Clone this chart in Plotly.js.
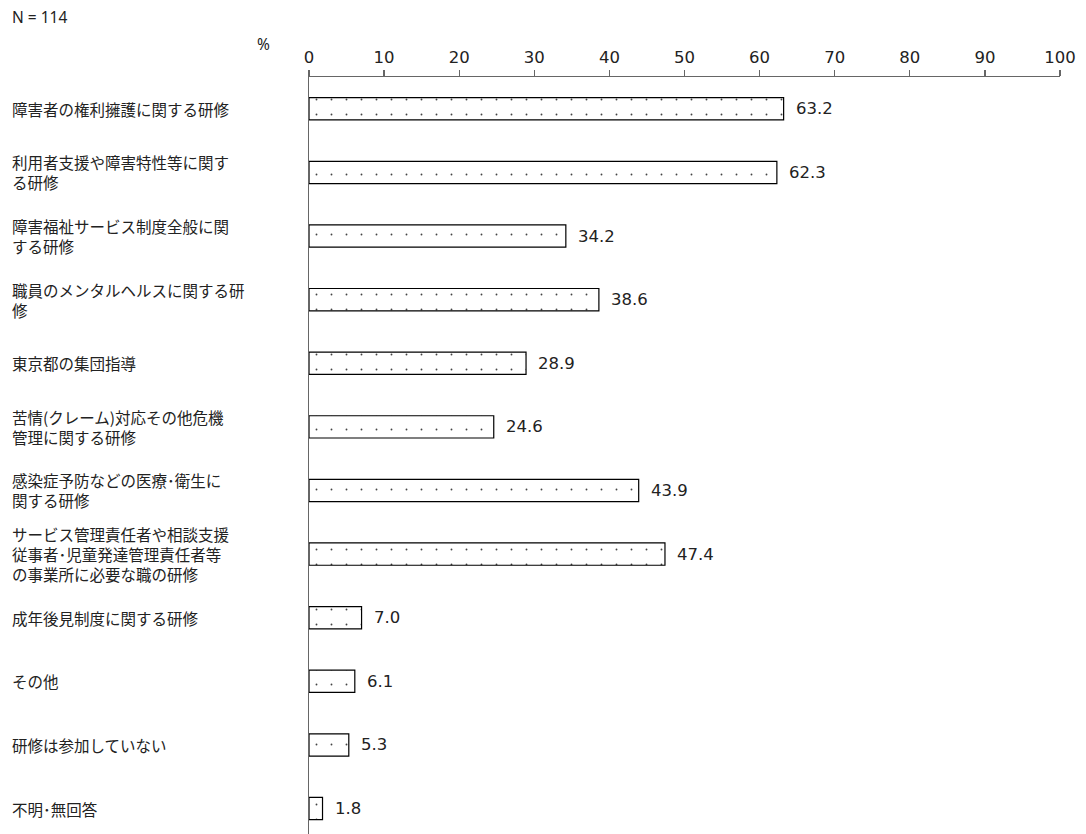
<!DOCTYPE html>
<html><head><meta charset="utf-8">
<script src="https://cdn.plot.ly/plotly-3.0.1.min.js"></script>
<style>body{margin:0;background:#fff}#c{width:1086px;height:834px}</style>
</head><body><div id="c"></div>
<script>
const categories = [
  "障害者の権利擁護に関する研修",
  "利用者支援や障害特性等に関す<br>る研修",
  "障害福祉サービス制度全般に関<br>する研修",
  "職員のメンタルヘルスに関する研<br>修",
  "東京都の集団指導",
  "苦情(クレーム)対応その他危機<br>管理に関する研修",
  "感染症予防などの医療･衛生に<br>関する研修",
  "サービス管理責任者や相談支援<br>従事者･児童発達管理責任者等<br>の事業所に必要な職の研修",
  "成年後見制度に関する研修",
  "その他",
  "研修は参加していない",
  "不明･無回答"
];
const values = [63.2, 62.3, 34.2, 38.6, 28.9, 24.6, 43.9, 47.4, 7.0, 6.1, 5.3, 1.8];
const tickValues = [0,10,20,30,40,50,60,70,80,90,100];

const font = "'Noto Sans CJK JP', 'Noto Sans', sans-serif";
const numFont = "'DejaVu Sans', sans-serif";
const ids = categories.map((c,i)=>"c"+i);

const trace = {
  type: "bar", orientation: "h",
  x: values, y: ids,
  width: 0.35,
  marker: {
    color: "#ffffff",
    line: {color: "#000000", width: 1.2},
    pattern: {shape: ".", fgcolor: "#444444", bgcolor: "#ffffff", size: 15, solidity: 0.012}
  },
  hoverinfo: "skip"
};

const annotations = [];
categories.forEach((c,i)=>{
  annotations.push({xref:"paper", x:-0.398, yref:"y", y:ids[i], text:c, showarrow:false,
    xanchor:"left", yanchor:"middle", align:"left",
    font:{family:font, size:15.5, color:"#222"}});
  annotations.push({xref:"x", x:values[i], yref:"y", y:ids[i], text:values[i].toFixed(1), showarrow:false,
    xanchor:"left", yanchor:"middle", xshift:10, font:{family:numFont, size:16.5, color:"#222"}});
});
annotations.push({xref:"paper", yref:"paper", x:-0.398, y:1.079, xanchor:"left", yanchor:"middle",
  text:"N = 114", showarrow:false, font:{family:"'Noto Sans', sans-serif", size:15.5, color:"#222"}});
annotations.push({xref:"paper", yref:"paper", x:-0.061, y:1.044, xanchor:"center", yanchor:"middle",
  text:"%", showarrow:false, font:{family:"'Noto Sans', sans-serif", size:15.5, color:"#222"}});

const layout = {
  width:1086, height:834,
  margin:{l:309, r:26, t:77, b:0},
  paper_bgcolor:"#fff", plot_bgcolor:"#fff",
  showlegend:false,
  xaxis:{side:"top", range:[0,100], tickvals:tickValues, ticktext:tickValues.map(String),
    showgrid:false, zeroline:false, showline:true, linecolor:"#666666", linewidth:1.3,
    ticks:"outside", ticklen:6, tickcolor:"#666666", tickwidth:1.3,
    tickfont:{family:numFont, size:16.5, color:"#222"}, fixedrange:true},
  yaxis:{type:"category", range:[11.4,-0.5], showticklabels:false, showgrid:false, zeroline:false,
    showline:true, linecolor:"#666666", linewidth:1.3, ticks:"", fixedrange:true},
  annotations:annotations
};
Plotly.newPlot("c",[trace],layout,{staticPlot:true});
</script></body></html>
